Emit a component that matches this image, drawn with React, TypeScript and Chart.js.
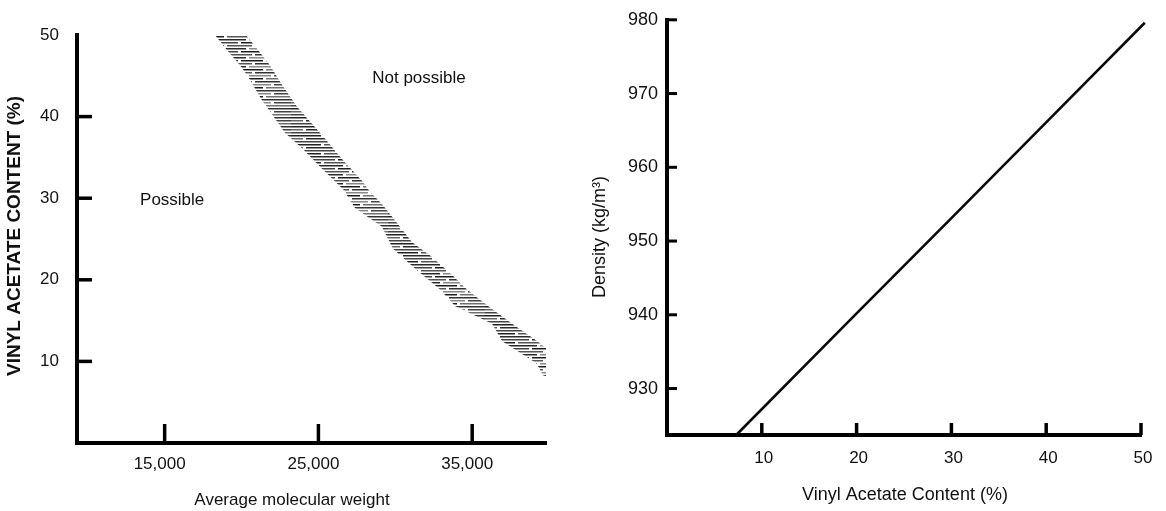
import React, { useEffect, useRef } from "react";
import { Chart, registerables } from "chart.js";

Chart.register(...registerables);

const FONT = '"Liberation Sans", Arial, Helvetica, sans-serif';

// ---- Left panel: vinyl acetate content vs average molecular weight ----
const weightTicks = [15000, 25000, 35000];
const contentTicks = [10, 20, 30, 40, 50];

// Upper / right edge of the hatched transition band
const bandUpperWeight = [20290, 21135, 21850, 22630, 23610, 24780, 25560, 26530, 27900, 28350, 29130, 30180, 31090, 32390, 33690, 34660, 36030, 37590, 39210, 39800];
const bandUpperContent = [50, 48.0, 46.3, 43.9, 41.2, 38.7, 37.0, 34.8, 32.0, 30.8, 29.3, 26.8, 24.6, 22.8, 20.6, 18.8, 16.8, 14.6, 12.5, 11.6];

// Lower / left edge of the hatched transition band
const bandLowerWeight = [18270, 19120, 19900, 20420, 21330, 21980, 22830, 24000, 25300, 26600, 27380, 29130, 29850, 31280, 32910, 33880, 36290, 36940, 37650, 38430, 39210, 39600, 39800];
const bandLowerContent = [50, 48.0, 46.3, 44.9, 42.0, 40.3, 38.0, 36.0, 33.5, 31.1, 28.8, 26.5, 23.8, 21.4, 18.8, 16.8, 14.6, 12.5, 11.6, 10.7, 9.7, 8.3, 8.2];

// ---- Right panel: density vs vinyl acetate content ----
const vaTicks = [10, 20, 30, 40, 50];
const densityTicks = [930, 940, 950, 960, 970, 980];
const densityContent = [7.3, 20, 30, 40, 50.4];
const densityValue = [923.7, 940.2, 953.1, 966.1, 979.6];

const W = 583;
const H = 511;

type Caption = {
  text: string;
  x?: number;
  y?: number;
  at?: [number, number];
  font: string;
  align?: CanvasTextAlign;
  rotate?: number;
};

function captionsPlugin(items: Caption[]) {
  return {
    id: "captions",
    afterDraw(chart: any) {
      const ctx = chart.ctx as CanvasRenderingContext2D;
      for (const c of items) {
        let x = c.x ?? 0;
        let y = c.y ?? 0;
        if (c.at) {
          x = chart.scales.x.getPixelForValue(c.at[0]);
          y = chart.scales.y.getPixelForValue(c.at[1]);
        }
        ctx.save();
        ctx.font = c.font;
        ctx.fillStyle = "#111";
        ctx.textAlign = c.align ?? "center";
        ctx.textBaseline = "middle";
        ctx.translate(x, y);
        if (c.rotate) ctx.rotate(c.rotate);
        ctx.fillText(c.text, 0, 0);
        ctx.restore();
      }
    },
  };
}

type TickMarks = {
  x: { length: number; width: number; skip?: number[] };
  y: { length: number; width: number; skip?: number[] };
};

// Tick marks that point into the plot area from the axis lines
function inwardTicksPlugin(cfg: TickMarks) {
  return {
    id: "inwardTicks",
    afterDatasetsDraw(chart: any) {
      const ctx = chart.ctx as CanvasRenderingContext2D;
      const { left, bottom } = chart.chartArea;
      ctx.save();
      ctx.strokeStyle = "#000";
      ctx.lineCap = "butt";
      (["x", "y"] as const).forEach((id) => {
        const o = cfg[id];
        const scale = chart.scales[id];
        ctx.lineWidth = o.width;
        for (const t of scale.ticks) {
          if (o.skip && o.skip.includes(t.value)) continue;
          const p = scale.getPixelForValue(t.value);
          ctx.beginPath();
          if (id === "x") {
            ctx.moveTo(p, bottom);
            ctx.lineTo(p, bottom - o.length);
          } else {
            ctx.moveTo(left, p);
            ctx.lineTo(left + o.length, p);
          }
          ctx.stroke();
        }
      });
      ctx.restore();
    },
  };
}

// Horizontal dash texture used for the hatched band
function makeHatch(): CanvasPattern | string {
  const c = document.createElement("canvas");
  c.width = 97;
  c.height = 9;
  const g = c.getContext("2d");
  if (!g) return "#555";
  const rows: [number, [number, number, string][]][] = [
    [0, [[0, 30, "#222"], [33, 25, "#555"], [61, 36, "#333"]]],
    [3, [[0, 12, "#666"], [15, 37, "#2a2a2a"], [55, 22, "#888"], [80, 17, "#444"]]],
    [6, [[0, 44, "#444"], [47, 22, "#1e1e1e"], [72, 25, "#707070"]]],
  ];
  for (const [y, segs] of rows) {
    for (const [x, w, col] of segs) {
      g.fillStyle = col;
      g.fillRect(x, y, w, 1.5);
    }
  }
  return g.createPattern(c, "repeat") ?? "#555";
}

function fixedBox(width?: number, height?: number) {
  return (scale: any) => {
    if (width !== undefined) scale.width = width;
    if (height !== undefined) scale.height = height;
  };
}

function useChart(ref: React.RefObject<HTMLCanvasElement | null>, build: () => any) {
  useEffect(() => {
    if (!ref.current) return;
    const chart = new Chart(ref.current, build());
    return () => chart.destroy();
  }, []);
}

const axisBorder = { display: true, width: 4, color: "#000" };

function WeightChart() {
  const ref = useRef<HTMLCanvasElement | null>(null);
  useChart(ref, () => {
    const upper = bandUpperWeight.map((x, i) => ({ x, y: bandUpperContent[i] }));
    const lower = bandLowerWeight.map((x, i) => ({ x, y: bandLowerContent[i] }));
    const band = [...upper, ...lower.reverse()];
    const area = { left: 77, right: 546, top: 35, bottom: 443 };
    return {
      type: "line",
      data: {
        datasets: [
          {
            data: band,
            fill: "shape",
            backgroundColor: makeHatch(),
            borderColor: "transparent",
            borderWidth: 0,
            pointRadius: 0,
            tension: 0,
            clip: false,
          },
        ],
      },
      options: {
        animation: false,
        responsive: false,
        devicePixelRatio: 1,
        events: [],
        layout: { padding: { top: area.top, right: W - area.right, left: 0, bottom: 0 } },
        plugins: { legend: { display: false }, tooltip: { enabled: false } },
        scales: {
          x: {
            type: "linear",
            min: 9300,
            max: 39800,
            afterFit: fixedBox(undefined, H - area.bottom),
            afterBuildTicks: (s: any) => {
              s.ticks = weightTicks.map((value) => ({ value }));
            },
            grid: { display: false, drawTicks: false },
            border: axisBorder,
            ticks: {
              padding: 11,
              labelOffset: -5,
              maxRotation: 0,
              autoSkip: false,
              color: "#111",
              font: { family: FONT, size: 17 },
              callback: (v: any) => Number(v).toLocaleString("en-US"),
            },
          },
          y: {
            type: "linear",
            min: 0,
            max: 50,
            afterFit: fixedBox(area.left, undefined),
            afterBuildTicks: (s: any) => {
              s.ticks = contentTicks.map((value) => ({ value }));
            },
            grid: { display: false, drawTicks: false },
            border: axisBorder,
            ticks: {
              padding: 18,
              autoSkip: false,
              color: "#111",
              font: { family: FONT, size: 17 },
            },
          },
        },
      },
      plugins: [
        inwardTicksPlugin({
          x: { length: 19, width: 3.5 },
          y: { length: 15, width: 3.5, skip: [50] },
        }),
        captionsPlugin([
          { text: "VINYL ACETATE CONTENT (%)", x: 15, y: 236, rotate: -Math.PI / 2, font: `bold 19px ${FONT}` },
          { text: "Average molecular weight", x: 292, y: 500, font: `17px ${FONT}` },
          { text: "Possible", at: [13400, 29.8], align: "left", font: `17px ${FONT}` },
          { text: "Not possible", at: [28500, 44.7], align: "left", font: `17px ${FONT}` },
        ]),
      ],
    };
  });
  return (
    <canvas
      ref={ref}
      width={W}
      height={H}
      style={{ position: "absolute", left: 0, top: 0, width: W, height: H }}
    />
  );
}

function DensityChart() {
  const ref = useRef<HTMLCanvasElement | null>(null);
  useChart(ref, () => {
    const area = { left: 84, right: 558, top: 16, bottom: 435 };
    return {
      type: "line",
      data: {
        datasets: [
          {
            data: densityContent.map((x, i) => ({ x, y: densityValue[i] })),
            borderColor: "#0a0a0a",
            borderWidth: 2.6,
            pointRadius: 0,
            tension: 0,
            fill: false,
            clip: false,
          },
        ],
      },
      options: {
        animation: false,
        responsive: false,
        devicePixelRatio: 1,
        events: [],
        layout: { padding: { top: area.top, right: W - area.right, left: 0, bottom: 0 } },
        plugins: { legend: { display: false }, tooltip: { enabled: false } },
        scales: {
          x: {
            type: "linear",
            min: 0,
            max: 50,
            afterFit: fixedBox(undefined, H - area.bottom),
            afterBuildTicks: (s: any) => {
              s.ticks = vaTicks.map((value) => ({ value }));
            },
            grid: { display: false, drawTicks: false },
            border: axisBorder,
            ticks: {
              padding: 13,
              labelOffset: 2,
              maxRotation: 0,
              autoSkip: false,
              color: "#111",
              font: { family: FONT, size: 17 },
            },
          },
          y: {
            type: "linear",
            min: 923.7,
            max: 980,
            afterFit: fixedBox(area.left, undefined),
            afterBuildTicks: (s: any) => {
              s.ticks = densityTicks.map((value) => ({ value }));
            },
            grid: { display: false, drawTicks: false },
            border: axisBorder,
            ticks: {
              padding: 9,
              autoSkip: false,
              color: "#111",
              font: { family: FONT, size: 18 },
            },
          },
        },
      },
      plugins: [
        inwardTicksPlugin({
          x: { length: 12, width: 3.5 },
          y: { length: 10, width: 3 },
        }),
        captionsPlugin([
          { text: "Density (kg/m³)", x: 17, y: 237, rotate: -Math.PI / 2, font: `18px ${FONT}` },
          { text: "Vinyl Acetate Content (%)", x: 322, y: 495, font: `18px ${FONT}` },
        ]),
      ],
    };
  });
  return (
    <canvas
      ref={ref}
      width={W}
      height={H}
      style={{ position: "absolute", left: W, top: 0, width: W, height: H }}
    />
  );
}

export default function App() {
  return (
    <div
      style={{
        position: "fixed",
        left: 0,
        top: 0,
        width: 1166,
        height: 511,
        background: "#fff",
        overflow: "hidden",
      }}
    >
      <WeightChart />
      <DensityChart />
    </div>
  );
}
